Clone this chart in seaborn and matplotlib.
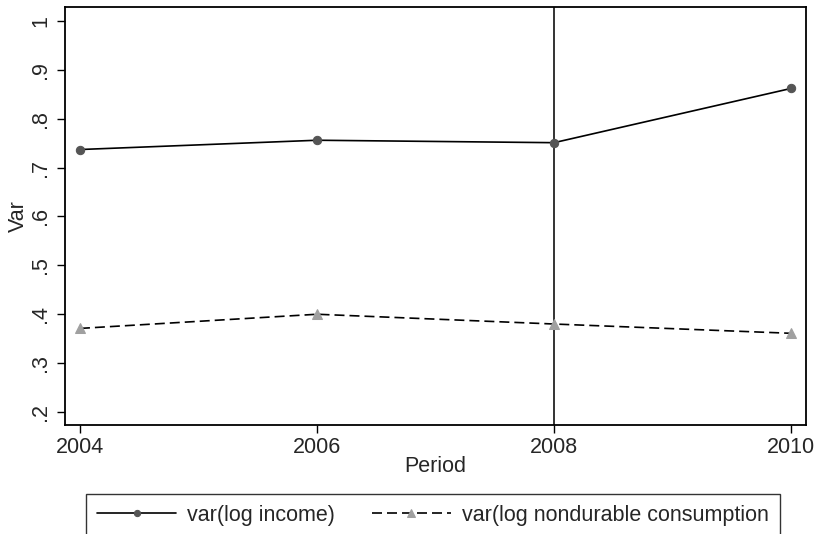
import numpy as np
import pandas as pd
import matplotlib
matplotlib.use("Agg")
import matplotlib.pyplot as plt
import seaborn as sns

# values
period = [2004, 2006, 2008, 2010]
var_income = [0.737, 0.756, 0.751, 0.862]
var_consumption = [0.371, 0.400, 0.380, 0.361]
yticks = [0.2, 0.3, 0.4, 0.5, 0.6, 0.7, 0.8, 0.9, 1.0]
ytick_labels = [".2", ".3", ".4", ".5", ".6", ".7", ".8", ".9", "1"]
label_income = "var(log income)"
label_cons = "var(log nondurable consumption"
crisis_year = 2008

sns.set_style("white")
plt.rcParams['font.family'] = ['Liberation Sans', 'DejaVu Sans']
fs = 15.5

df_inc = pd.DataFrame({'Period': period, 'Var': var_income})
df_con = pd.DataFrame({'Period': period, 'Var': var_consumption})

fig = plt.figure(figsize=(8.18, 5.34), dpi=100)
ax = fig.add_axes([65/818, 1-425/534, (806-65)/818, (425-7)/534])

sns.lineplot(data=df_inc, x='Period', y='Var', ax=ax, color='black', linewidth=1.2,
             marker='o', markersize=6, markerfacecolor='#555555', markeredgecolor='#555555',
             label=label_income)
sns.lineplot(data=df_con, x='Period', y='Var', ax=ax, color='black', linewidth=1.2,
             linestyle=(0, (6, 3)), marker='^', markersize=6.5,
             markerfacecolor='#a0a0a0', markeredgecolor='#a0a0a0', label=label_cons)

ax.axvline(crisis_year, color='#333333', linewidth=1.4, zorder=1)

ax.set_xlim(2003.874, 2010.126)
ax.set_ylim(0.1734, 1.0286)
ax.set_xticks(period)
ax.set_xticklabels([str(p) for p in period], fontsize=fs)
ax.set_yticks(yticks)
ax.set_yticklabels(ytick_labels, fontsize=fs, rotation=90, va='center')
ax.tick_params(axis='both', direction='out', length=5.8, width=1, color='black',
               left=True, bottom=True)
ax.tick_params(axis='y', pad=4)
ax.tick_params(axis='x', pad=2.5)
for s in ax.spines.values():
    s.set_color('black')
    s.set_linewidth(1.3)

ax.set_xlabel('Period', fontsize=fs)
ax.set_ylabel('Var', fontsize=fs)
ax.xaxis.set_label_coords(0.5, -(466-425)/418, transform=ax.transAxes)
ax.xaxis.label.set_va('center')
ax.yaxis.set_label_coords(-(65-18)/741, 0.5, transform=ax.transAxes)
ax.yaxis.label.set_va('center')

handles, labels = ax.get_legend_handles_labels()
ax.get_legend().remove()
leg = fig.legend(handles, labels, ncol=2, loc='upper left',
                 bbox_to_anchor=(86/818, 1-494/534),
                 fontsize=fs, handlelength=3.7, handletextpad=0.5,
                 borderpad=0.5, borderaxespad=0, columnspacing=1.7,
                 frameon=True, fancybox=False)
leg.get_frame().set_edgecolor('black')
leg.get_frame().set_linewidth(1.0)
leg.legend_handles[0].set_markersize(4.5)
leg.legend_handles[1].set_markersize(5.5)

fig.savefig('out.png', dpi=100)
